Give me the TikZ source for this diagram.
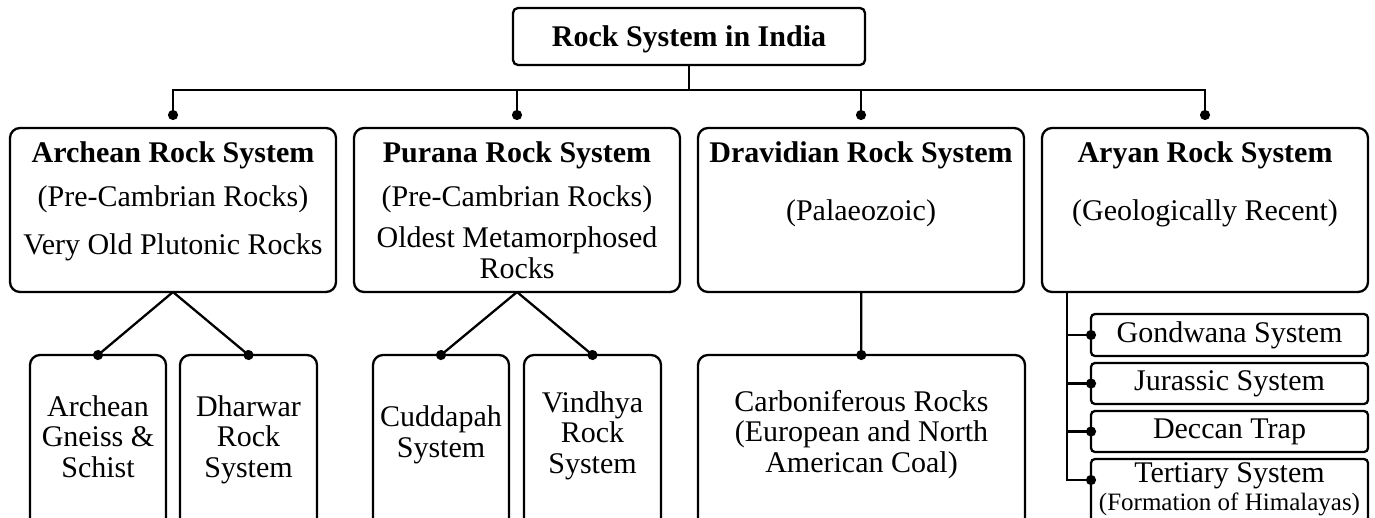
\documentclass[tikz,border=0pt]{standalone}
\usepackage{fontspec}
\setmainfont{Liberation Serif}
\usepackage{tikz}
\usetikzlibrary{arrows.meta}
\tikzset{box/.style = {draw, line width=2.3pt, rounded corners=10pt,
    outer sep=0pt, inner sep=0pt},
  smallbox/.style = {box, rounded corners=4pt, minimum width=277pt,
    font=\fontsize{30}{30.5}\selectfont},
  txt/.style = {anchor=base, align=center, inner sep=0pt,
    font=\fontsize{30}{30.5}\selectfont},
  head/.style = {txt, font=\fontsize{30}{30.5}\selectfont\bfseries},
  dotend/.style = {line width=2.3pt, -{Circle[length=10pt]}}
  }

\begin{document}
\begin{tikzpicture}[x=1pt,y=-1pt]
  \useasboundingbox (0,0) rectangle (1375,517);
  \clip (0,0) rectangle (1375,517);
  \node[box, rounded corners=5pt, minimum width=352pt, minimum height=57pt,
    font=\fontsize{30}{30.5}\selectfont\bfseries, text depth=0pt] (root) at (689,36.5) {Rock System in India};
  \coordinate (bus) at (689,90);
  % the four systems
  \node[box, minimum width=326pt, minimum height=164pt] (arch) at (173,210) {};
  \node[box, minimum width=326pt, minimum height=164pt] (pura) at (517,210) {};
  \node[box, minimum width=326pt, minimum height=164pt] (drav) at (861,210) {};
  \node[box, minimum width=326pt, minimum height=164pt] (arya) at (1205,210) {};
  \node[head] (archhead) at (173,162) {Archean Rock System};
  \node[txt] (archsub) at (173,206) {(Pre-Cambrian Rocks)};
  \node[txt] (archnote) at (173,254) {Very Old Plutonic Rocks};
  \node[head] (purahead) at (517,162) {Purana Rock System};
  \node[txt] (purasub) at (517,206) {(Pre-Cambrian Rocks)};
  \node[txt] (puranote) at (517,278) {Oldest Metamorphosed\\Rocks};
  \node[head] (dravhead) at (861,162) {Dravidian Rock System};
  \node[txt] (dravsub) at (861,220) {(Palaeozoic)};
  \node[head] (aryahead) at (1205,162) {Aryan Rock System};
  \node[txt] (aryasub) at (1205,220) {(Geologically Recent)};
  % second row
  \node[box, anchor=north, minimum width=136pt, minimum height=200pt] (gneiss) at (98,355) {};
  \node[box, anchor=north, minimum width=137pt, minimum height=200pt] (dharwar) at (248.5,355) {};
  \node[box, anchor=north, minimum width=136pt, minimum height=200pt] (cudd) at (441,355) {};
  \node[box, anchor=north, minimum width=137pt, minimum height=200pt] (vindhya) at (592.5,355) {};
  \node[box, anchor=north, minimum width=327pt, minimum height=200pt] (carb) at (861.5,355) {};
  \node[txt] (gneisst) at (98,477) {Archean\\Gneiss \&\\Schist};
  \node[txt] (dharwart) at (248.5,477) {Dharwar\\Rock\\System};
  \node[txt] (cuddt) at (441,457) {Cuddapah\\System};
  \node[txt] (vindhyat) at (592.5,473) {Vindhya\\Rock\\System};
  \node[txt] (carbt) at (861.5,472) {Carboniferous Rocks\\(European and North\\American Coal)};
  % aryan list
  \node[smallbox, minimum height=42pt] (gond) at (1229.5,335) {Gondwana System};
  \node[smallbox, minimum height=41pt] (jura) at (1229.5,383.5) {Jurassic System};
  \node[smallbox, minimum height=41pt] (decc) at (1229.5,431.5) {Deccan Trap};
  \node[smallbox, anchor=north, minimum height=100pt] (tert) at (1229.5,459) {};
  \node[txt] (tertt) at (1229.5,482) {Tertiary System};
  \node[txt, font=\fontsize{25}{26}\selectfont] (tertnote) at (1229.5,510) {(Formation of Himalayas)};
  \coordinate (trunk) at (1067,292);
  \coordinate (tertin) at (1091,480);
  % connectors
  \draw[line width=2.3pt] (root) -- (bus);
  \foreach \n in {arch,pura,drav,arya}
    \draw[dotend, shorten >=8pt] (bus) -| (\n);
  \draw[dotend, shorten >=-5pt] (arch.south) -- (gneiss.north);
  \draw[dotend, shorten >=-5pt] (arch.south) -- (dharwar.north);
  \draw[dotend, shorten >=-5pt] (pura.south) -- (cudd.north);
  \draw[dotend, shorten >=-5pt] (pura.south) -- (vindhya.north);
  \draw[dotend, shorten >=-5pt] (drav) -- (carb);
  \foreach \n in {gond,jura,decc}
    \draw[dotend, shorten >=-5pt] (trunk |- \n.west) -- (\n.west);
  \draw[dotend, shorten >=-5pt] (trunk) |- (tertin);
\end{tikzpicture}
\end{document}
